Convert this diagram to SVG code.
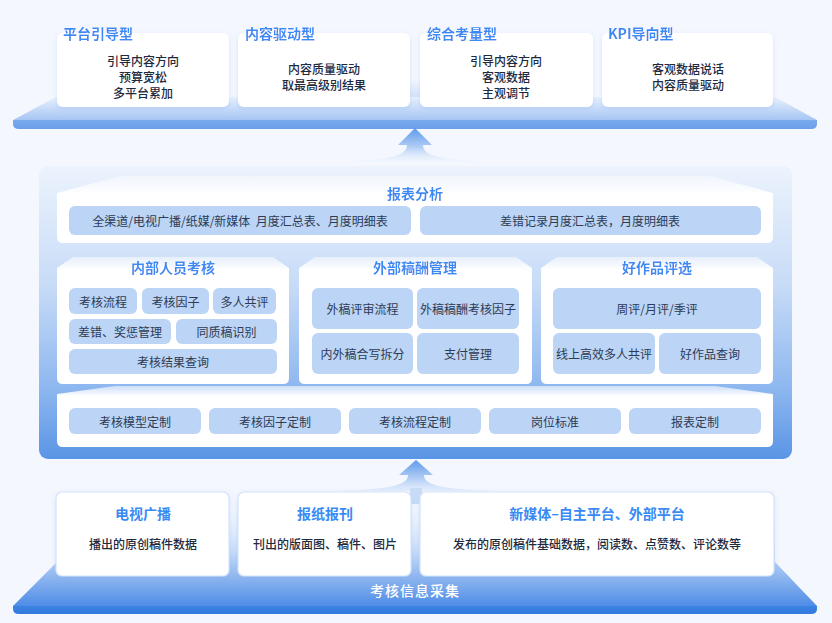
<svg xmlns="http://www.w3.org/2000/svg" width="832" height="623" viewBox="0 0 832 623">
<defs>
<style>
text{font-family:"Noto Sans CJK SC","Noto Sans",sans-serif;dominant-baseline:central}
.ttl{font-size:14px;font-weight:700;fill:#3a8af4}
.tc{text-anchor:middle}
.body{font-size:12px;font-weight:500;fill:#1e2a40;text-anchor:middle}
.it{font-size:12px;fill:#2d3b54;text-anchor:middle}
.bar{fill:#bcd4f5}
.card{fill:#ffffff}
.bcard{fill:#ffffff;stroke:#d3e3fb;stroke-width:1.2}
</style>
<linearGradient id="gPlat" gradientUnits="userSpaceOnUse" x1="0" y1="95" x2="0" y2="121">
<stop offset="0" stop-color="#eef4fe"/><stop offset="1" stop-color="#a3c4f3"/></linearGradient>
<linearGradient id="gBand1" gradientUnits="userSpaceOnUse" x1="0" y1="119" x2="0" y2="129">
<stop offset="0" stop-color="#7aabee"/><stop offset="1" stop-color="#6b9fe9"/></linearGradient>
<linearGradient id="gCont" gradientUnits="userSpaceOnUse" x1="0" y1="166" x2="0" y2="459">
<stop offset="0" stop-color="#ecf3fd"/><stop offset="0.4" stop-color="#c8dcf7"/><stop offset="0.75" stop-color="#8fb8f0"/><stop offset="1" stop-color="#5a95e6"/></linearGradient>
<linearGradient id="gBase" gradientUnits="userSpaceOnUse" x1="0" y1="500" x2="0" y2="607">
<stop offset="0" stop-color="#eef4fe" stop-opacity="0"/><stop offset="0.5" stop-color="#c3d9f7"/><stop offset="1" stop-color="#4c8be6"/></linearGradient>
<linearGradient id="gBand2" gradientUnits="userSpaceOnUse" x1="0" y1="604" x2="0" y2="614">
<stop offset="0" stop-color="#3f86e4"/><stop offset="1" stop-color="#3279de"/></linearGradient>
<linearGradient id="gArr1" gradientUnits="userSpaceOnUse" x1="0" y1="128" x2="0" y2="162">
<stop offset="0" stop-color="#5f9bec"/><stop offset="0.55" stop-color="#aecbf4"/><stop offset="1" stop-color="#eaf2fd" stop-opacity="0.3"/></linearGradient>
<linearGradient id="gArr2" gradientUnits="userSpaceOnUse" x1="0" y1="460" x2="0" y2="492">
<stop offset="0" stop-color="#5f9bec"/><stop offset="0.55" stop-color="#aecbf4"/><stop offset="1" stop-color="#dde9fc" stop-opacity="0.6"/></linearGradient>
<linearGradient id="gStem" x1="0" y1="0" x2="0" y2="1">
<stop offset="0" stop-color="#b8d1f5" stop-opacity="0"/><stop offset="1" stop-color="#b8d1f5"/></linearGradient>
<linearGradient id="gFadeA" gradientUnits="userSpaceOnUse" x1="0" y1="172" x2="0" y2="194">
<stop offset="0" stop-color="#ffffff" stop-opacity="0.2"/><stop offset="1" stop-color="#ffffff"/></linearGradient>
<linearGradient id="gFadeB" gradientUnits="userSpaceOnUse" x1="0" y1="255" x2="0" y2="270">
<stop offset="0" stop-color="#ffffff" stop-opacity="0.4"/><stop offset="1" stop-color="#ffffff"/></linearGradient>
<linearGradient id="gFadeC" gradientUnits="userSpaceOnUse" x1="0" y1="385" x2="0" y2="396">
<stop offset="0" stop-color="#ffffff" stop-opacity="0.5"/><stop offset="1" stop-color="#ffffff"/></linearGradient>
<filter id="tglow" x="-20%" y="-50%" width="140%" height="220%">
<feDropShadow dx="0" dy="2" stdDeviation="1.5" flood-color="#ffffff" flood-opacity="1"/></filter>
<filter id="sh" x="-10%" y="-20%" width="120%" height="150%">
<feDropShadow dx="0" dy="2" stdDeviation="2.5" flood-color="#7aa8ea" flood-opacity="0.25"/></filter>
</defs>

<rect x="0" y="0" width="832" height="623" fill="#f4f7fe"/>

<!-- top platform -->
<g id="top-platform">
<path d="M409,80 H421 V110 H409 Z" fill="url(#gStem)"/>
<path d="M13,120 L56,97 L775,97 L817,120 Z" fill="url(#gPlat)"/>
<path d="M13,120 L817,120 L817,124 Q817,129 811,129 L19,129 Q13,129 13,124 Z" fill="url(#gBand1)"/>
</g>

<g id="card-pingtai">
<rect class="card" x="57" y="33" width="172" height="74" rx="6" filter="url(#sh)"/>
<text class="ttl" x="63" y="33" filter="url(#tglow)">平台引导型</text>
<text class="body" x="143" y="60">引导内容方向</text>
<text class="body" x="143" y="76">预算宽松</text>
<text class="body" x="143" y="92">多平台累加</text>
</g>
<g id="card-neirong">
<rect class="card" x="238" y="33" width="172" height="74" rx="6" filter="url(#sh)"/>
<text class="ttl" x="245" y="33" filter="url(#tglow)">内容驱动型</text>
<text class="body" x="324" y="68">内容质量驱动</text>
<text class="body" x="324" y="84">取最高级别结果</text>
</g>
<g id="card-zonghe">
<rect class="card" x="420" y="33" width="173" height="74" rx="6" filter="url(#sh)"/>
<text class="ttl" x="427" y="33" filter="url(#tglow)">综合考量型</text>
<text class="body" x="506" y="60">引导内容方向</text>
<text class="body" x="506" y="76">客观数据</text>
<text class="body" x="506" y="92">主观调节</text>
</g>
<g id="card-kpi">
<rect class="card" x="602" y="33" width="171" height="74" rx="6" filter="url(#sh)"/>
<text class="ttl" x="608" y="33" filter="url(#tglow)">KPI导向型</text>
<text class="body" x="688" y="68">客观数据说话</text>
<text class="body" x="688" y="84">内容质量驱动</text>
</g>

<!-- middle container -->
<g id="middle-container">
<rect x="39" y="166" width="753" height="293" rx="9" fill="url(#gCont)"/>
</g>

<g id="baobiao">
<path d="M57,193 L120,176 L710,176 L773,193 V237 Q773,243 767,243 H63 Q57,243 57,237 Z" fill="url(#gFadeA)"/>
<text class="ttl tc" x="415" y="193" filter="url(#tglow)">报表分析</text>
<rect class="bar" x="69" y="206" width="342" height="29" rx="6"/>
<text class="it" x="240" y="220.5" xml:space="preserve">全渠道/电视广播/纸媒/新媒体&#160;&#160;月度汇总表、月度明细表</text>
<rect class="bar" x="420" y="206" width="341" height="29" rx="6"/>
<text class="it" x="590" y="220.5">差错记录月度汇总表，月度明细表</text>
</g>

<g id="neibu">
<path d="M57,268 L73,257 H273 L289,268 V378 Q289,384 283,384 H63 Q57,384 57,378 Z" fill="url(#gFadeB)"/>
<text class="ttl tc" x="173" y="267" filter="url(#tglow)">内部人员考核</text>
<rect class="bar" x="69" y="288" width="68" height="26" rx="6"/>
<text class="it" x="103" y="301">考核流程</text>
<rect class="bar" x="142" y="288" width="67" height="26" rx="6"/>
<text class="it" x="175.5" y="301">考核因子</text>
<rect class="bar" x="213" y="288" width="63" height="26" rx="6"/>
<text class="it" x="244.5" y="301">多人共评</text>
<rect class="bar" x="69" y="319" width="102" height="25" rx="6"/>
<text class="it" x="120" y="331.5">差错、奖惩管理</text>
<rect class="bar" x="176" y="319" width="101" height="25" rx="6"/>
<text class="it" x="226.5" y="331.5">同质稿识别</text>
<rect class="bar" x="69" y="349" width="208" height="25" rx="6"/>
<text class="it" x="173" y="361.5">考核结果查询</text>
</g>

<g id="waibu">
<path d="M299,268 L315,257 H516 L532,268 V378 Q532,384 526,384 H305 Q299,384 299,378 Z" fill="url(#gFadeB)"/>
<text class="ttl tc" x="415" y="267" filter="url(#tglow)">外部稿酬管理</text>
<rect class="bar" x="312" y="288" width="101" height="41" rx="6"/>
<text class="it" x="362.5" y="308.5">外稿评审流程</text>
<rect class="bar" x="417" y="288" width="102" height="41" rx="6"/>
<text class="it" x="468" y="308.5">外稿稿酬考核因子</text>
<rect class="bar" x="312" y="333" width="101" height="41" rx="6"/>
<text class="it" x="362.5" y="353.5">内外稿合写拆分</text>
<rect class="bar" x="417" y="333" width="102" height="41" rx="6"/>
<text class="it" x="468" y="353.5">支付管理</text>
</g>

<g id="haozuopin">
<path d="M541,268 L557,257 H757 L773,268 V378 Q773,384 767,384 H547 Q541,384 541,378 Z" fill="url(#gFadeB)"/>
<text class="ttl tc" x="657" y="267" filter="url(#tglow)">好作品评选</text>
<rect class="bar" x="553" y="288" width="208" height="41" rx="6"/>
<text class="it" x="657" y="308.5">周评/月评/季评</text>
<rect class="bar" x="553" y="333" width="102" height="41" rx="6"/>
<text class="it" x="604" y="353.5">线上高效多人共评</text>
<rect class="bar" x="659" y="333" width="102" height="41" rx="6"/>
<text class="it" x="710" y="353.5">好作品查询</text>
</g>

<g id="dingzhi">
<path d="M57,394 L115,386 H715 L773,394 V441 Q773,447 767,447 H63 Q57,447 57,441 Z" fill="url(#gFadeC)"/>
<rect class="bar" x="69" y="408" width="132" height="26" rx="6"/>
<text class="it" x="135" y="421">考核模型定制</text>
<rect class="bar" x="209" y="408" width="132" height="26" rx="6"/>
<text class="it" x="275" y="421">考核因子定制</text>
<rect class="bar" x="349" y="408" width="132" height="26" rx="6"/>
<text class="it" x="415" y="421">考核流程定制</text>
<rect class="bar" x="489" y="408" width="132" height="26" rx="6"/>
<text class="it" x="555" y="421">岗位标准</text>
<rect class="bar" x="629" y="408" width="132" height="26" rx="6"/>
<text class="it" x="695" y="421">报表定制</text>
</g>

<!-- bottom base -->
<g id="base-platform">
<path d="M13,606 L57,562 L57,500 L775,500 L775,562 L817,606 Z" fill="url(#gBase)"/>
<path d="M13,606 H817 V609 Q817,614 811,614 H19 Q13,614 13,609 Z" fill="url(#gBand2)"/>
<text x="415" y="590" font-size="14" font-weight="500" fill="#ffffff" text-anchor="middle" letter-spacing="1">考核信息采集</text>
</g>

<!-- connectors -->
<g id="connectors">
<path d="M415,128 L432,145 L423,145 C423,156 440,160 495,162 L335,162 C390,160 407,156 407,145 L398,145 Z" fill="url(#gArr1)"/>
<path d="M416,460 L433,475 L424,475 C424,485 440,489 495,491 L337,491 C392,489 408,485 408,475 L399,475 Z" fill="url(#gArr2)"/>
<rect x="410" y="488" width="12" height="16" fill="#c8dcf7"/>
</g>

<g id="src-tv">
<rect class="bcard" x="56" y="492" width="173" height="84" rx="6" filter="url(#sh)"/>
<text class="ttl tc" x="143" y="513">电视广播</text>
<text class="body" x="143" y="543">播出的原创稿件数据</text>
</g>
<g id="src-paper">
<rect class="bcard" x="238" y="492" width="173" height="84" rx="6" filter="url(#sh)"/>
<text class="ttl tc" x="325" y="513">报纸报刊</text>
<text class="body" x="325" y="543">刊出的版面图、稿件、图片</text>
</g>
<g id="src-newmedia">
<rect class="bcard" x="420" y="492" width="354" height="84" rx="6" filter="url(#sh)"/>
<text class="ttl tc" x="597" y="513">新媒体–自主平台、外部平台</text>
<text class="body" x="597" y="543">发布的原创稿件基础数据，阅读数、点赞数、评论数等</text>
</g>
</svg>
